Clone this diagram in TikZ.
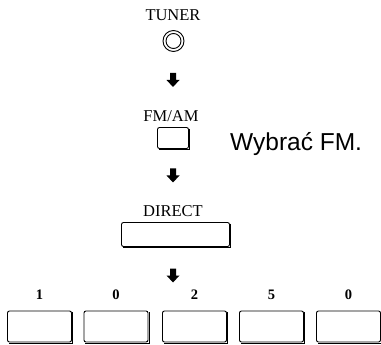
\documentclass[tikz,border=0pt]{standalone}
\usepackage{fontspec}
\setmainfont{Liberation Serif}
\newfontfamily\helv{Liberation Sans}
\begin{document}
\begin{tikzpicture}[x=1pt,y=-1pt,
  lbl/.style={font=\fontsize{16.5}{16.5}\selectfont, inner sep=0pt, anchor=base},
  dig/.style={font=\bfseries\fontsize{14.5}{14.5}\selectfont, inner sep=0pt, anchor=base},
  btn/.style={draw, line width=0.9pt, rounded corners=2pt, inner sep=0pt},
  shadowline/.style={line width=1pt},
  downarrow/.pic={\fill (-3,-7) -- (3,-7) -- (3,0) -- (6.5,0) -- (0,7) -- (-6.5,0) -- (-3,0) -- cycle;}
]
\useasboundingbox (0,0) rectangle (381,345);
% TUNER
\node[lbl] (tuner) at (173,20.7) {TUNER};
\node[draw, circle, line width=0.9pt, minimum size=21pt, inner sep=0pt] (knob) at (173.5,41) {};
\node[draw, circle, line width=0.9pt, minimum size=15pt, inner sep=0pt] (knobin) at (173.5,41) {};
\pic at (173,80) {downarrow};
% FM/AM
\node[lbl] (fmam) at (171,121.7) {FM/AM};
\node[btn, minimum width=31pt, minimum height=21pt] (fmbox) at (173,138) {};
\draw[shadowline] ([xshift=1pt,yshift=-1.5pt]fmbox.north east) -- ([xshift=1pt,yshift=-1pt]fmbox.south east) -- ([xshift=1.5pt,yshift=-1pt]fmbox.south west);
\node[anchor=base west, inner sep=0pt, font=\helv\fontsize{24.5}{24.5}\selectfont] (wyb) at (230,150) {Wybrać FM.};
\pic at (173,175.5) {downarrow};
% DIRECT
\node[lbl] (direct) at (173,216) {DIRECT};
\node[btn, minimum width=108pt, minimum height=24pt] (dbox) at (175.5,234.5) {};
\draw[shadowline] ([xshift=1pt,yshift=-1.5pt]dbox.north east) -- ([xshift=1pt,yshift=-1pt]dbox.south east) -- ([xshift=1.5pt,yshift=-1pt]dbox.south west);
\pic at (173,275.5) {downarrow};
% digit buttons
\foreach \i/\x/\d in {1/39.5/1,2/116/0,3/194.5/2,4/271.5/5,5/348.5/0}{
  \node[dig] (d\i) at (\x,299) {\d};
  \node[btn, minimum width=64pt, minimum height=31pt] (b\i) at (\x,326.5) {};
  \draw[shadowline] ([xshift=1pt,yshift=-1.5pt]b\i.north east) -- ([xshift=1pt,yshift=-1pt]b\i.south east) -- ([xshift=1.5pt,yshift=-1pt]b\i.south west);
}
\end{tikzpicture}
\end{document}
